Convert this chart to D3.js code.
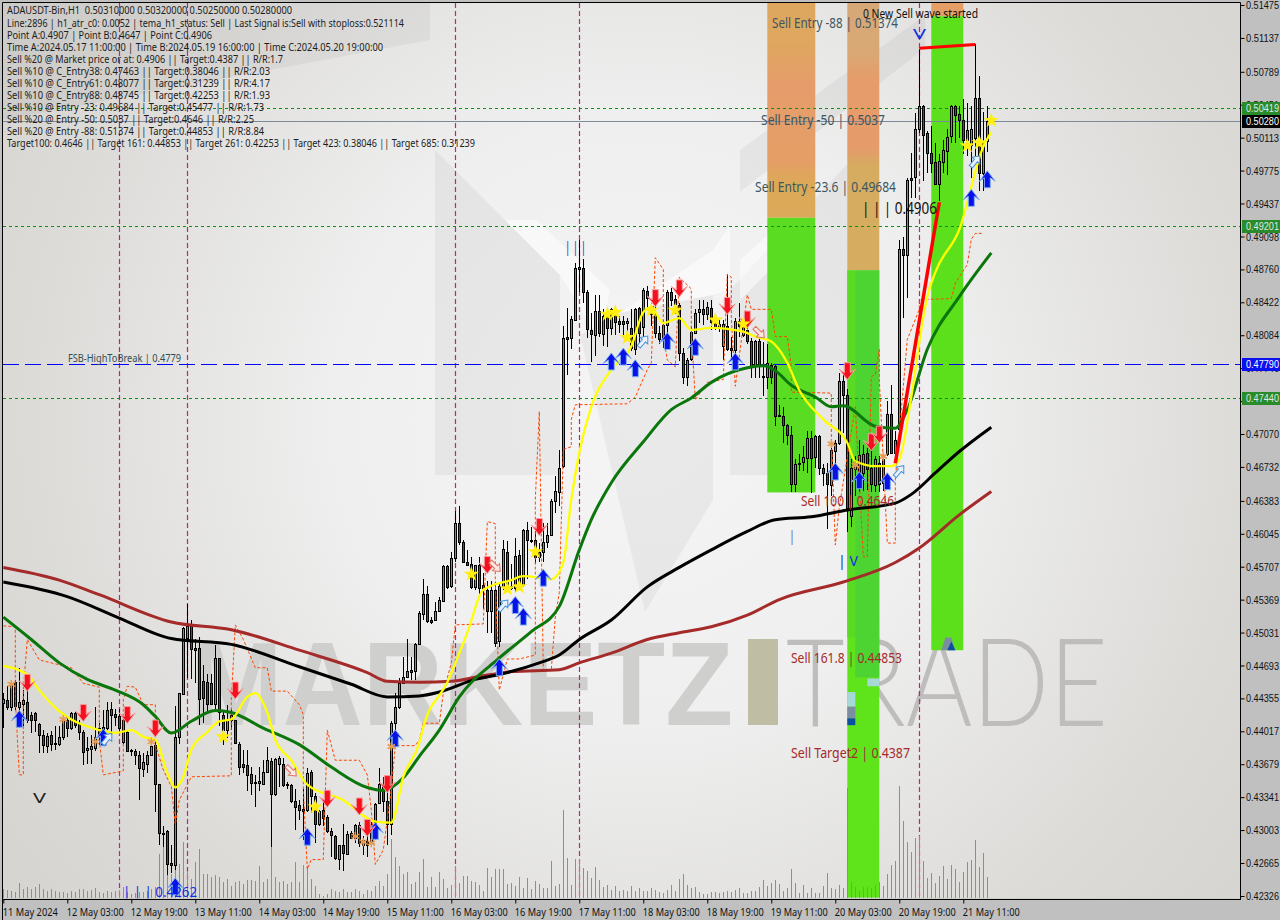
<!DOCTYPE html>
<html><head><meta charset="utf-8">
<script src="https://cdnjs.cloudflare.com/ajax/libs/d3/7.8.5/d3.min.js"></script>
<style>html,body{margin:0;padding:0;background:#c0c0c0;overflow:hidden}svg{display:block}</style>
</head><body><svg id="c" width="1280" height="920"></svg>
<script>
// prices are stored x 10000
const opens=[4431,4434,4427,4452,4427,4430,4432,4418,4420,4409,
4398,4387,4398,4390,4389,4396,4413,4405,4420,4409,
4401,4383,4384,4385,4405,4402,4405,4425,4419,4417,
4391,4401,4383,4382,4377,4363,4368,4377,4388,4348,
4296,4299,4266,4264,4396,4440,4498,4510,4487,4487,
4453,4452,4451,4430,4477,4418,4403,4413,4413,4389,
4368,4367,4358,4350,4349,4348,4360,4371,4337,4368,
4368,4348,4347,4330,4326,4322,4321,4360,4335,4307,
4321,4314,4299,4294,4271,4285,4276,4297,4292,4306,
4290,4289,4287,4302,4328,4348,4330,4307,4410,4427,
4451,4457,4465,4464,4491,4522,4543,4516,4516,4525,
4536,4571,4551,4580,4616,4596,4576,4573,4550,4572,
4552,4547,4525,4547,4494,4550,4586,4551,4549,4583,
4552,4608,4598,4598,4581,4586,4596,4603,4638,4647,
4674,4807,4806,4824,4876,4877,4853,4814,4809,4833,
4810,4828,4816,4830,4823,4823,4821,4816,4794,4836,
4817,4854,4836,4830,4811,4806,4819,4853,4846,4839,
4790,4766,4784,4811,4832,4835,4830,4836,4823,4816,
4797,4818,4795,4793,4823,4809,4814,4803,4777,4802,
4767,4766,4778,4777,4725,4725,4716,4706,4656,4676,
4678,4682,4703,4683,4705,4672,4667,4655,4690,4698,
4761,4747,4623,4671,4664,4667,4687,4672,4655,4677,
4657,4686,4728,4687,4712,4897,4891,4970,4971,5020,
5044,5016,4996,4986,4964,4986,4998,5013,5044,5036,
5029,5009,5004,5011,5052,4975,5008];
const highs=[4441,4448,4453,4454,4467,4444,4448,4422,4422,4410,
4403,4400,4402,4407,4407,4416,4417,4422,4422,4413,
4403,4396,4398,4427,4410,4424,4432,4432,4425,4425,
4417,4403,4384,4384,4381,4379,4381,4393,4393,4348,
4304,4300,4285,4428,4441,4509,4532,4516,4497,4499,
4470,4461,4461,4490,4477,4422,4429,4425,4413,4391,
4383,4383,4365,4357,4365,4372,4386,4374,4374,4376,
4374,4350,4348,4342,4331,4342,4364,4362,4338,4321,
4330,4316,4302,4295,4285,4307,4299,4299,4307,4309,
4294,4309,4309,4328,4364,4355,4340,4412,4441,4456,
4478,4496,4478,4492,4525,4558,4551,4519,4534,4540,
4572,4572,4586,4628,4633,4598,4588,4581,4572,4581,
4564,4556,4556,4555,4554,4598,4597,4573,4600,4588,
4609,4617,4612,4610,4595,4616,4616,4640,4664,4691,
4818,4836,4828,4883,4906,4887,4855,4831,4850,4850,
4835,4833,4836,4835,4828,4828,4826,4835,4836,4837,
4857,4859,4841,4850,4818,4824,4855,4857,4850,4841,
4795,4785,4818,4835,4845,4845,4843,4845,4830,4824,
4824,4871,4807,4826,4841,4824,4821,4806,4804,4806,
4801,4799,4780,4778,4737,4735,4717,4715,4681,4686,
4695,4710,4710,4706,4706,4676,4677,4701,4701,4770,
4770,4753,4681,4684,4701,4696,4693,4695,4684,4684,
4686,4741,4757,4710,4906,4909,4970,4996,5037,5102,
5045,5018,5023,5006,4994,5009,5020,5045,5045,5044,
5051,5047,5044,5107,5075,5038,5044];
const lows=[4405,4424,4423,4424,4405,4407,4410,4400,4401,4379,
4379,4379,4381,4383,4387,4393,4396,4403,4405,4393,
4367,4368,4368,4381,4388,4389,4403,4401,4407,4401,
4389,4381,4376,4367,4331,4355,4359,4377,4319,4285,
4283,4254,4256,4259,4389,4439,4456,4455,4451,4408,
4410,4423,4429,4425,4407,4388,4395,4403,4389,4357,
4359,4340,4336,4324,4340,4347,4360,4283,4335,4345,
4345,4342,4328,4300,4311,4290,4319,4318,4287,4304,
4304,4297,4273,4270,4259,4258,4275,4292,4287,4283,
4275,4273,4285,4290,4327,4319,4285,4295,4398,4425,
4451,4457,4454,4454,4490,4516,4513,4512,4515,4524,
4535,4548,4549,4576,4593,4575,4571,4548,4547,4540,
4527,4503,4503,4488,4488,4547,4547,4547,4545,4549,
4550,4558,4595,4573,4576,4576,4590,4602,4626,4633,
4672,4768,4794,4823,4853,4841,4806,4781,4787,4807,
4797,4796,4809,4809,4811,4806,4809,4792,4788,4799,
4806,4836,4818,4806,4799,4795,4811,4838,4830,4782,
4758,4756,4782,4811,4821,4819,4824,4814,4814,4812,
4783,4792,4783,4783,4807,4807,4799,4765,4765,4765,
4746,4753,4758,4715,4724,4698,4696,4647,4647,4669,
4669,4667,4646,4672,4665,4654,4609,4643,4674,4696,
4708,4606,4612,4643,4647,4648,4650,4647,4647,4647,
4648,4684,4687,4677,4700,4826,4847,4949,4949,5016,
4967,4975,4975,4963,4946,4975,4973,5006,5006,5011,
4994,4992,4970,4992,4956,4956,4997];
const closes=[4435,4427,4450,4428,4432,4434,4413,4413,4413,4398,
4388,4397,4389,4389,4396,4412,4405,4420,4408,4401,
4380,4385,4387,4396,4399,4406,4424,4418,4416,4405,
4413,4382,4381,4377,4364,4370,4377,4387,4348,4297,
4297,4265,4264,4396,4441,4508,4510,4486,4485,4435,
4436,4430,4430,4477,4422,4403,4413,4418,4390,4365,
4365,4357,4349,4349,4351,4360,4372,4337,4373,4374,
4347,4347,4330,4324,4321,4320,4359,4335,4307,4320,
4313,4299,4295,4272,4285,4277,4296,4292,4306,4287,
4285,4285,4307,4327,4348,4330,4307,4410,4427,4451,
4457,4464,4463,4491,4523,4543,4515,4514,4525,4537,
4571,4550,4580,4616,4596,4576,4572,4550,4572,4549,
4548,4525,4547,4492,4551,4589,4551,4549,4582,4551,
4608,4598,4597,4581,4586,4596,4603,4638,4648,4672,
4806,4805,4825,4877,4878,4853,4815,4810,4833,4811,
4828,4816,4835,4822,4820,4820,4823,4795,4835,4811,
4855,4847,4830,4811,4805,4819,4853,4845,4840,4790,
4766,4783,4812,4831,4835,4830,4837,4822,4817,4820,
4820,4794,4793,4823,4818,4821,4802,4777,4802,4777,
4766,4780,4766,4725,4727,4716,4706,4656,4676,4677,
4683,4703,4682,4705,4672,4667,4656,4691,4698,4761,
4747,4631,4672,4676,4685,4686,4671,4656,4681,4656,
4681,4728,4687,4701,4897,4891,4968,4968,5020,5044,
5014,4996,4985,4964,4987,4999,5012,5044,5035,5029,
5009,5019,5020,5052,4975,5008,5028];
const volumes=[9,8,7,6,15,9,11,9,11,14,
9,7,9,7,6,6,5,7,6,9,
9,7,8,10,6,5,7,6,7,8,
11,6,4,5,6,6,7,9,11,44,
72,26,24,56,34,56,27,19,36,49,
24,24,21,23,21,16,19,12,16,17,
14,18,18,17,32,16,19,52,21,16,
17,14,16,36,16,33,32,19,12,4,
2,4,9,7,6,9,6,6,9,7,
4,8,7,12,17,12,24,59,41,32,
24,26,14,16,26,39,11,21,11,26,
19,10,13,32,15,22,22,17,16,13,
7,30,21,29,29,29,14,15,12,21,
10,20,9,17,14,10,10,37,12,14,
88,40,13,39,39,30,27,20,31,18,
11,13,8,12,7,8,7,12,7,10,
7,7,10,8,6,5,8,13,7,19,
24,13,10,11,6,4,4,6,6,5,
6,7,6,8,10,5,5,7,7,11,
18,12,15,18,14,7,10,29,15,5,
13,5,10,5,5,12,25,10,9,13,
10,110,16,11,7,11,11,10,13,16,
12,24,33,37,112,77,56,46,60,62,
37,20,25,15,22,32,19,33,29,16,
26,36,38,58,31,45,21];

const brownBars=[0,14,24,42,57,74,91,96,104,112,119,127,139,144,152,161,169,177,186,194,210,223,229,239,247];
const brownVals=[4570,4557,4542,4514,4506,4485,4462,4453,4452,4453,4458,4463,4465,4472,4482,4496,4503,4509,4521,4537,4555,4575,4590,4624,4648];
const blackBars=[0,16,29,42,57,74,87,96,104,109,118,124,134,139,144,152,161,169,177,186,193,202,211,223,227,233,239,247];
const blackVals=[4555,4540,4518,4497,4491,4468,4450,4437,4438,4442,4455,4460,4472,4480,4496,4516,4550,4570,4588,4607,4619,4622,4629,4636,4645,4667,4689,4714];
const greenBars=[0,7,14,21,28,35,38,42,47,53,57,65,74,82,91,95,100,104,109,114,124,132,139,144,147,152,160,167,172,177,186,190,193,197,203,207,210,218,223,226,231,239,247];
const greenVals=[4519,4496,4472,4455,4444,4429,4417,4400,4412,4423,4421,4405,4388,4365,4344,4341,4354,4376,4403,4437,4477,4504,4530,4588,4619,4657,4699,4732,4744,4760,4775,4777,4772,4757,4745,4735,4736,4715,4713,4732,4794,4848,4893];
const yellowBars=[0,6,9,13,24,28,32,35,38,41,43,45,47,51,54,57,61,63,66,68,72,76,85,93,97,100,104,105,111,116,120,127,130,137,140,142,144,147,152,157,160,162,165,169,172,177,185,188,192,196,199,205,211,213,218,222,224,227,230,231,233,239,245,247];
const yellowVals=[4469,4460,4444,4426,4403,4400,4403,4396,4393,4359,4344,4355,4383,4401,4412,4414,4437,4441,4421,4393,4372,4347,4331,4309,4308,4355,4390,4406,4452,4503,4547,4557,4561,4558,4575,4640,4688,4735,4773,4797,4832,4837,4821,4826,4814,4816,4812,4807,4802,4780,4752,4722,4698,4679,4674,4674,4681,4745,4827,4848,4873,4917,5002,5017];
const waveBars=[223,234];
const waveVals=[4677,4945];
const topBars=[229,243];
const topVals=[5103,5107];
const stopBars=[0,3,3,4,5,5,6,9,13,17,20,24,24,25,30,30,31,33,35,38,38,40,42,43,44,47,57,57,58,60,63,66,67,71,74,75,75,76,77,80,81,83,89,91,92,93,95,97,98,103,104,105,109,110,112,113,120,121,123,123,124,126,129,133,133,134,135,137,138,139,140,142,142,143,156,158,161,162,163,165,165,166,168,169,172,172,173,176,180,181,182,182,183,186,187,192,193,196,197,197,207,207,208,209,213,215,216,217,218,219,219,221,223,223,226,229,229,237,238,241,242,243,245];
const stopVals=[4510,4509,4434,4357,4357,4444,4496,4475,4471,4467,4451,4447,4393,4357,4361,4434,4448,4447,4429,4429,4388,4362,4345,4306,4331,4355,4356,4434,4511,4496,4467,4467,4443,4443,4429,4419,4342,4260,4270,4270,4403,4372,4372,4357,4321,4265,4280,4342,4387,4387,4393,4410,4410,4441,4472,4511,4512,4617,4615,4554,4444,4476,4476,4480,4640,4730,4465,4465,4519,4544,4691,4694,4722,4737,4738,4745,4773,4780,4888,4876,4807,4783,4776,4868,4856,4814,4742,4760,4763,4871,4868,4827,4756,4850,4835,4835,4807,4807,4776,4750,4749,4708,4593,4632,4735,4581,4581,4766,4768,4794,4763,4595,4595,4660,4804,4835,4845,4846,4862,4881,4907,4913,4913];

const buyBars=[4,25,43,76,93,98,124,128,130,135,152,155,158,166,173,183,208,214,221,242,246];
const buyVals=[4414,4395,4242,4293,4299,4394,4467,4531,4519,4559,4781,4786,4774,4802,4796,4781,4668,4659,4658,4949,4968];
const sellBars=[6,20,31,38,58,81,89,91,96,121,134,163,169,181,186,211,217,219];
const sellVals=[4452,4421,4419,4405,4444,4333,4325,4303,4348,4573,4612,4847,4857,4839,4825,4772,4699,4707];
const starBars=[55,78,117,126,129,133,151,153,156,162,168,178,185,241,244,247];
const starVals=[4396,4324,4563,4548,4550,4586,4830,4832,4806,4834,4834,4824,4820,5003,5006,5029];
const crossBars=[2,15,23,37,88,90,92,97,207,213,220];
const crossVals=[4450,4414,4391,4391,4294,4288,4287,4386,4697,4675,4684];
const hollowUpBars=[26,125,160,243,224];
const hollowUpVals=[4394,4531,4802,4987,4669];
const hollowDownBars=[72,123,189];
const hollowDownVals=[4361,4571,4811];
const cycleBars=[29,46,113,144,229];

const priceTicks=[.51475,.51137,.50789,.50451,.50113,.49775,.49437,.49098,.48760,.48422,.48084,.47746,.47407,.47070,.46732,.46383,.46045,.45707,.45369,.45031,.44693,.44355,.44017,.43679,.43341,.43003,.42665,.42326];
const timeLabels=["11 May 2024","12 May 03:00","12 May 19:00","13 May 11:00","14 May 03:00","14 May 19:00","15 May 11:00","16 May 03:00","16 May 19:00","17 May 11:00","18 May 03:00","18 May 19:00","19 May 11:00","20 May 03:00","20 May 19:00","21 May 11:00"];
const timeBars=timeLabels.map((d,i)=>i*16);

const headerLines=["ADAUSDT-Bin,H1  0.50310000 0.50320000 0.50250000 0.50280000",
"Line:2896 | h1_atr_c0: 0.0052 | tema_h1_status: Sell | Last Signal is:Sell with stoploss:0.521114",
"Point A:0.4907 | Point B:0.4647 | Point C:0.4906",
"Time A:2024.05.17 11:00:00 | Time B:2024.05.19 16:00:00 | Time C:2024.05.20 19:00:00",
"Sell %20 @ Market price or at: 0.4906 || Target:0.4387 || R/R:1.7",
"Sell %10 @ C_Entry38: 0.47463 || Target:0.38046 || R/R:2.03",
"Sell %10 @ C_Entry61: 0.48077 || Target:0.31239 || R/R:4.17",
"Sell %10 @ C_Entry88: 0.48745 || Target:0.42253 || R/R:1.93",
"Sell %10 @ Entry -23: 0.49684 || Target:0.45477 || R/R:1.73",
"Sell %20 @ Entry -50: 0.5037 || Target:0.4646 || R/R:2.25",
"Sell %20 @ Entry -88: 0.51374 || Target:0.44853 || R/R:8.84",
"Target100: 0.4646 || Target 161: 0.44853 || Target 261: 0.42253 || Target 423: 0.38046 || Target 685: 0.31239"];
const headerEnds=[292,404,212,383,283,270,270,270,264,254,264,475];

const svg=d3.select("#c");
const x=d3.scaleLinear().domain([0,246]).range([3.3,987.3]);
const y=d3.scaleLinear().domain([.42326,.51475]).range([896,5]);
const py=v=>y(v/10000);
const yVol=d3.scaleLinear().domain([0,112]).range([898,786]);
const defs=svg.append("defs");
defs.append("clipPath").attr("id","plot").append("rect").attr("x",3).attr("y",3).attr("width",1237).attr("height",895.5);
const bg=defs.append("radialGradient").attr("id","bg").attr("gradientUnits","userSpaceOnUse").attr("cx",640).attr("cy",420).attr("r",760);
[[0,"#f5f5f5"],[.4,"#efefef"],[.8,"#dcdbd8"],[1,"#d6d5d2"]].forEach(s=>bg.append("stop").attr("offset",s[0]).attr("stop-color",s[1]));
function vgrad(id,stops){const g=defs.append("linearGradient").attr("id",id).attr("x1",0).attr("y1",0).attr("x2",0).attr("y2",1);
 stops.forEach(s=>g.append("stop").attr("offset",s[0]).attr("stop-color",s[1]));}
vgrad("or1",[[0,"#dda75f"],[.2,"#dfa75f"],[.4,"#e69c6b"],[.75,"#e59f66"],[.85,"#dcaa56"],[1,"#dba95a"]]);
vgrad("or2",[[0,"#d6a878"],[.2,"#d9a874"],[.3,"#e69c6b"],[.55,"#e59b6a"],[.62,"#d5ac60"],[1,"#d5ac60"]]);

svg.append("rect").attr("width",1280).attr("height",920).attr("fill","#c0c0c0");
const g=svg.append("g").attr("clip-path","url(#plot)");
g.append("rect").attr("x",3).attr("y",3).attr("width",1237).attr("height",896).attr("fill","url(#bg)");

// faint background logo
const wm=g.append("g");
[[[435,150],[560,275],[560,475],[435,475]],
 [[580,335],[620,312],[713,295],[713,500],[645,612]],
 [[730,290],[860,150],[860,475],[730,475]],
 [[740,150],[925,15],[925,48],[740,192]],
 [[3,3],[430,3],[430,40],[3,120]]].forEach(p=>wm.append("polygon").attr("points",p.join(" ")).attr("fill","#000").attr("fill-opacity",.045));
[[[505,220],[537,220],[610,290],[600,340],[560,275]],
 [[620,313],[713,250],[730,225],[730,290],[713,295]],
 [[740,260],[790,215],[815,200],[815,225],[740,300]]].forEach(p=>wm.append("polygon").attr("points",p.join(" ")).attr("fill","#fff").attr("fill-opacity",.5));
wm.append("text").text("MARKETZ").attr("x",190).attr("y",725).attr("font-family","Liberation Sans").attr("font-weight","bold").attr("font-size",119).attr("textLength",543).attr("lengthAdjust","spacingAndGlyphs").attr("fill","#cfcfcd");
wm.append("rect").attr("x",748).attr("y",639).attr("width",30).attr("height",86).attr("fill","#c0bda5");
wm.append("text").text("TRADE").attr("x",786).attr("y",726).attr("font-family","Lato").attr("font-weight",300).attr("font-size",122).attr("textLength",322).attr("lengthAdjust","spacingAndGlyphs").attr("fill","#bebdbb");

// zones
function zone(b0,b1,p0,p1,fill){g.append("rect").attr("x",x(b0)).attr("width",x(b1)-x(b0)).attr("y",py(p0)).attr("height",py(p1)-py(p0)).attr("fill",fill);}
zone(191,203,5155,4929,"url(#or1)");
zone(191,203,4929,4647,"#5adc22");
zone(211,219,5155,4875,"url(#or2)");
zone(211,219,4875,4231,"#5fe41c");
zone(211,213,4875,4498,"#58db22");
zone(213,219,4875,4457,"#4dd332");
zone(216,219,4456,4448,"#a6d8d8");
zone(211,213,4442,4427,"#a6d8d8");
zone(211,213,4427,4415,"#7a8ea0");
zone(211,213,4415,4408,"#0a4fa0");
zone(232,240,5155,5136,"#e59f66");
zone(232,240,5136,4485,"#5ce01c");
g.append("polygon").attr("points",[[x(234.5),py(4485)],[x(235.5),py(4498)],[x(237),py(4498)],[x(238),py(4485)]].join(" ")).attr("fill","#7a8ea0");
g.append("polygon").attr("points",[[x(236),py(4485)],[x(237),py(4494)],[x(238),py(4485)]].join(" ")).attr("fill","#0a4fa0");

// vertical cycle lines
g.selectAll(".cyc").data(cycleBars).join("line").attr("x1",d=>Math.round(x(d))+.5).attr("x2",d=>Math.round(x(d))+.5).attr("y1",3).attr("y2",898).attr("stroke","#c0208c").attr("stroke-width",1.2).attr("stroke-dasharray","5,3");

// horizontal levels
function hline(p,color,dash,w){g.append("line").attr("x1",3).attr("x2",1240).attr("y1",Math.round(y(p))+.5).attr("y2",Math.round(y(p))+.5).attr("stroke",color).attr("stroke-dasharray",dash).attr("stroke-width",w||1);}
hline(.50419,"#109010","3,3");hline(.49201,"#109010","3,3");hline(.47440,"#109010","3,3");
hline(.47790,"#0000ff","16,6");hline(.50280,"#7f8a99","");

// volumes
g.selectAll(".vol").data(volumes).join("line").attr("x1",(d,i)=>Math.round(x(i))+.5).attr("x2",(d,i)=>Math.round(x(i))+.5).attr("y1",yVol(0)).attr("y2",d=>yVol(d)).attr("stroke","#3fc53f").attr("stroke-width",1);

// candles
const cs=g.append("g").attr("shape-rendering","crispEdges");
opens.forEach((o,i)=>{
 const c=closes[i],cx=Math.round(x(i))+.5;
 cs.append("line").attr("x1",cx).attr("x2",cx).attr("y1",py(highs[i])).attr("y2",py(lows[i])).attr("stroke","#000");
 const t=Math.round(py(Math.max(o,c))),b=Math.round(py(Math.min(o,c)));
 cs.append("rect").attr("x",cx-1).attr("y",t+.5).attr("width",2).attr("height",Math.max(1,b-t)).attr("fill",c>=o?"#1fbf80":"#b3204a").attr("stroke","#000");
});

// moving averages and stops
const line=d3.line().x(d=>x(d[0])).y(d=>py(d[1]));
const smooth=d3.line().x(d=>x(d[0])).y(d=>py(d[1])).curve(d3.curveMonotoneX);
function series(bars,vals,color,w,dash,gen){g.append("path").attr("d",(gen||line)(bars.map((b,i)=>[b,vals[i]]))).attr("fill","none").attr("stroke",color).attr("stroke-width",w).attr("stroke-dasharray",dash||null).attr("stroke-linejoin","round");}
series(stopBars,stopVals,"#ff4500",1,"3,2");
series(brownBars,brownVals,"#a52a2a",3,null,smooth);
series(blackBars,blackVals,"#000000",3,null,smooth);
series(greenBars,greenVals,"#0b760b",3,null,smooth);
series(yellowBars,yellowVals,"#ffff00",2.3,null,smooth);
series(waveBars,waveVals,"#ff0000",3.5);
series(topBars,topVals,"#ff0000",3);

// markers
const upPath="M0,-9L8,1.5L3,-2V8H-3V-2L-8,1.5Z", dnPath="M0,9L8,-1.5L3,2V-8H-3V2L-8,-1.5Z";
const arrow="M0,-7L5,-1L2,-1V7H-2V-1L-5,-1Z";
function marks(bars,vals,fn){bars.forEach((b,i)=>fn(g.append("g").attr("transform",`translate(${x(b)},${py(vals[i])})`)));}
marks(buyBars,buyVals,s=>s.append("path").attr("d",upPath).attr("fill","#0a10e8").attr("stroke","#7fb0f0").attr("stroke-width",1));
marks(sellBars,sellVals,s=>s.append("path").attr("d",dnPath).attr("fill","#f5101e").attr("stroke","#f8a0a0").attr("stroke-width",1));
marks(starBars,starVals,s=>s.append("path").attr("d",d3.symbol(d3.symbolStar,75)()).attr("fill","#ffee10"));
marks(crossBars,crossVals,s=>s.append("path").attr("d",d3.symbol(d3.symbolAsterisk,50)()).attr("fill","none").attr("stroke","#e89a50").attr("stroke-width",1.6));
marks(hollowUpBars,hollowUpVals,s=>s.append("path").attr("d",arrow).attr("transform","rotate(40)").attr("fill","#e8f2ff").attr("stroke","#4a90d8"));
marks(hollowDownBars,hollowDownVals,s=>s.append("path").attr("d",arrow).attr("transform","rotate(135)").attr("fill","#fbe8e0").attr("stroke","#e07060"));

// text labels
function txt(par,s,x0,x1,b,size,color,fam,wt){const t=par.append("text").text(s).attr("x",x0).attr("y",b).attr("font-family",fam||"Noto Sans").attr("font-size",size).attr("fill",color).attr("xml:space","preserve");
 if(x1)t.attr("textLength",x1-x0).attr("lengthAdjust","spacingAndGlyphs"); if(wt)t.attr("font-weight",wt); return t;}
headerLines.forEach((s,i)=>txt(g,s,7,headerEnds[i],i==0?14:i*12+15,10,"#1c1c1c"));
const slate="#3d5560",brick="#a52a2a";
txt(g,"Sell Entry -88 | 0.51374",772,898,28,14,slate);
txt(g,"Sell Entry -50 | 0.5037",761,885,125,14,slate);
txt(g,"Sell Entry -23.6 | 0.49684",755,896,192,14,slate);
txt(g,"Sell 100 | 0.4646",801,894,506,14,brick);
txt(g,"Sell 161.8 | 0.44853",791,902,663,14,brick);
txt(g,"Sell Target2 | 0.4387",791,910,758,14,brick);
txt(g,"FSB-HighToBreak | 0.4779",68,181,362,10,"#2f4f4f");
txt(g,"0 New Sell wave started",863,978,18,12,"#111");
txt(g,"| | | 0.4906",862,937,214,16,"#111");
txt(g,"| | | 0.4262",123,197,897,15,"#1030e0");
txt(g,"| | |",565,586,252,14,"#1030e0");
txt(g,"| V",838,858,566,14,"#1030e0");
txt(g,"V",913,926,39,15,"#1030e0");
txt(g,"|",790,794,541,14,"#111");
txt(g,"V",33,46,803,15,"#222");

// frame
svg.append("path").attr("d","M2.5,920V2.5H1240.5V899").attr("fill","none").attr("stroke","#000").attr("stroke-width",1);
svg.append("line").attr("x1",2).attr("x2",1241).attr("y1",899.5).attr("y2",899.5).attr("stroke","#000");

// axes
const narrow="Liberation Sans Narrow, Liberation Sans";
const axR=svg.append("g").attr("transform","translate(1240.5,0)").call(d3.axisRight(y).tickValues(priceTicks).tickFormat(d3.format(".5f")).tickSize(4).tickPadding(2));
axR.select(".domain").remove();
axR.selectAll("text").attr("font-family",narrow).attr("font-size",11).attr("fill","#111").attr("x",5.5).attr("textLength",33).attr("lengthAdjust","spacingAndGlyphs");
axR.selectAll("line").attr("stroke","#000");
const axB=svg.append("g").attr("transform","translate(0,899.5)").call(d3.axisBottom(x).tickValues(timeBars).tickFormat((d,i)=>timeLabels[i]).tickSize(4).tickPadding(5));
axB.select(".domain").remove();
axB.selectAll("line").attr("stroke","#000");
axB.selectAll("text").attr("text-anchor","start").attr("x",-1).attr("font-family","Noto Sans").attr("font-size",10.5).attr("fill","#111").attr("textLength",(d,i)=>i==0?55:57).attr("lengthAdjust","spacingAndGlyphs");

// price tags
function tag(p,bgc,fg){const c=Math.round(y(p));svg.append("rect").attr("x",1242).attr("y",c-6).attr("width",38).attr("height",13).attr("fill",bgc);
 txt(svg,d3.format(".5f")(p),1246,1279,c+4,11,fg,narrow);}
tag(.50419,"#2a8b2a","#dfe8e8");tag(.50280,"#000","#fff");tag(.49201,"#2a8b2a","#dfe8e8");tag(.47790,"#0a10f0","#fff");tag(.47440,"#2a8b2a","#dfe8e8");
</script></body></html>
